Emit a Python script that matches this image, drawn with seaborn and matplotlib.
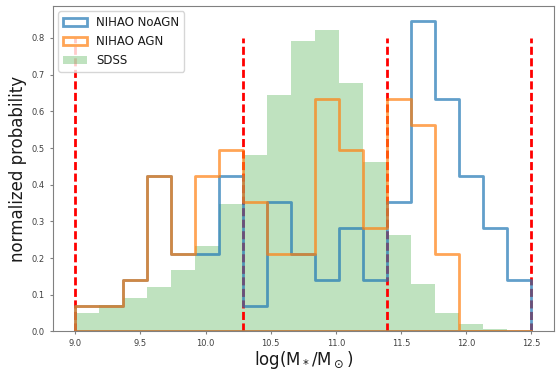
import numpy as np
import matplotlib
matplotlib.use("Agg")
import matplotlib.pyplot as plt
from matplotlib.colors import to_rgba
import seaborn as sns

# Stellar-mass binning shared by all three samples
mass_lo, mass_hi, n_bins = 9.0, 12.5, 19
edges = list(np.linspace(mass_lo, mass_hi, n_bins + 1))
centers = [0.5 * (a + b) for a, b in zip(edges[:-1], edges[1:])]

# NIHAO galaxies per bin (no AGN feedback / with AGN feedback)
noagn_counts = [1, 1, 2, 6, 3, 3, 6, 1, 5, 3, 2, 4, 2, 5, 12, 9, 6, 4, 2]
agn_counts = [1, 1, 2, 6, 3, 6, 7, 5, 3, 3, 9, 7, 4, 9, 8, 3, 0, 0, 0]

# SDSS normalized stellar-mass distribution per bin
sdss_density = [0.051, 0.072, 0.091, 0.121, 0.169, 0.232, 0.348, 0.481,
                0.645, 0.793, 0.824, 0.678, 0.463, 0.262, 0.130, 0.050,
                0.019, 0.006, 0.002]

# Mass thresholds marked with dashed lines
thresholds = [9.0, 10.29, 11.395, 12.5]
threshold_top = 0.8

sns.set_style("ticks", {
    "axes.edgecolor": "0.5",
    "xtick.color": "0.5",
    "ytick.color": "0.5",
    "text.color": "0.1",
    "axes.labelcolor": "0.1",
})
plt.rcParams["font.family"] = ["DejaVu Sans"]
plt.rcParams["xtick.labelcolor"] = "0.25"
plt.rcParams["ytick.labelcolor"] = "0.25"

fig, ax = plt.subplots(figsize=(5.59, 3.72), dpi=100)
fig.subplots_adjust(left=0.094, right=0.991, top=0.985, bottom=0.109)

ax.vlines(thresholds, 0, threshold_top, colors="red", linewidth=2.0,
          linestyles=[(0, (2.9, 1.25))], zorder=1)

sns.histplot(x=centers, weights=sdss_density, bins=edges, stat="density",
             element="step", fill=True, color="C2", alpha=0.3,
             linewidth=0, edgecolor="none", label="SDSS", ax=ax, zorder=0.5)

sns.histplot(x=centers, weights=noagn_counts, bins=edges, stat="density",
             element="step", fill=True, color="C0", facecolor="none",
             edgecolor=to_rgba("C0", 0.7), linewidth=2.0,
             label="NIHAO NoAGN", ax=ax, zorder=1.5)

sns.histplot(x=centers, weights=agn_counts, bins=edges, stat="density",
             element="step", fill=True, color="C1", facecolor="none",
             edgecolor=to_rgba("C1", 0.7), linewidth=2.0,
             label="NIHAO AGN", ax=ax, zorder=1.6)

span = mass_hi - mass_lo
ax.set_xlim(mass_lo - 0.05 * span, mass_hi + 0.05 * span)
ax.set_xticks(np.arange(9.0, 12.51, 0.5))
ax.set_yticks(np.arange(0.0, 0.81, 0.1))
ax.tick_params(labelsize=6, length=2.5, width=0.8, pad=3)
for s in ax.spines.values():
    s.set_visible(True)

ax.set_xlabel(r"log(M$_*$/M$_\odot$)", fontsize=12, labelpad=1)
ax.set_ylabel("normalized probability", fontsize=12, labelpad=3)

handles, labels = ax.get_legend_handles_labels()
order = [labels.index(k) for k in ["NIHAO NoAGN", "NIHAO AGN", "SDSS"]]
ax.legend([handles[i] for i in order], [labels[i] for i in order],
          loc="upper left", fontsize=8.5, frameon=True)

fig.savefig("out.png", dpi=100)
